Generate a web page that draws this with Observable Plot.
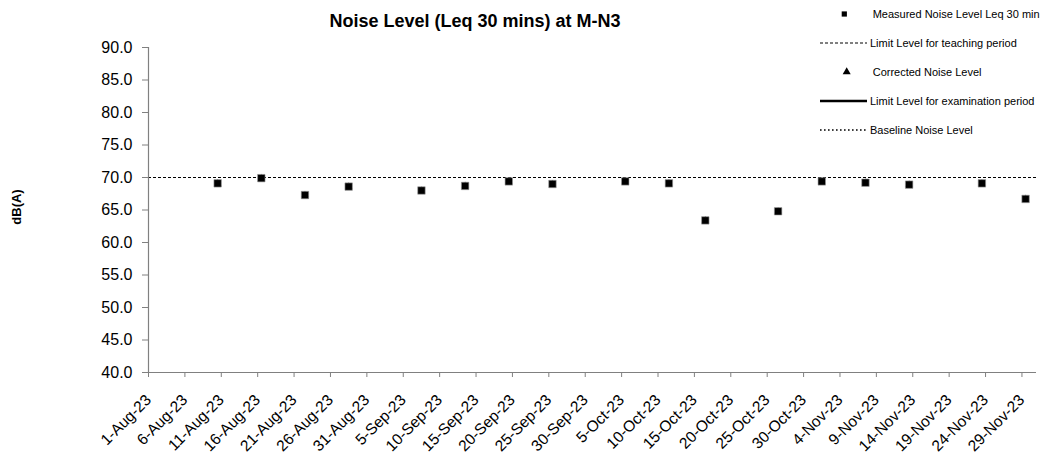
<!DOCTYPE html>
<html>
<head>
<meta charset="utf-8">
<script src="https://cdn.jsdelivr.net/npm/d3@7"></script>
<script src="https://cdn.jsdelivr.net/npm/@observablehq/plot@0.6"></script>
<style>
  html, body { margin: 0; padding: 0; background: #fff; }
  #chart svg { display: block; }
</style>
</head>
<body>
<div id="chart"></div>
<script>
const chartTitle = "Noise Level (Leq 30 mins) at M-N3";
const yLabel = "dB(A)";

// Measurement dates and values
const measDates = ["2023-08-10","2023-08-16","2023-08-22","2023-08-28","2023-09-07","2023-09-13","2023-09-19","2023-09-25","2023-10-05","2023-10-11","2023-10-16","2023-10-26","2023-11-01","2023-11-07","2023-11-13","2023-11-23","2023-11-29"];
const measuredLeq = [69.1,69.9,67.3,68.6,68.0,68.7,69.4,69.0,69.4,69.1,63.4,64.8,69.4,69.2,68.9,69.1,66.7];
const correctedLeq = [69.1,69.9,67.3,68.6,68.0,68.7,69.4,69.0,69.4,69.1,63.4,64.8,69.4,69.2,68.9,69.1,66.7];
const teachingLimit = 70;

// Axis ticks
const xTickDates = ["2023-08-01","2023-08-06","2023-08-11","2023-08-16","2023-08-21","2023-08-26","2023-08-31","2023-09-05","2023-09-10","2023-09-15","2023-09-20","2023-09-25","2023-09-30","2023-10-05","2023-10-10","2023-10-15","2023-10-20","2023-10-25","2023-10-30","2023-11-04","2023-11-09","2023-11-14","2023-11-19","2023-11-24","2023-11-29"];
const yTicks = [40,45,50,55,60,65,70,75,80,85,90];
const xDomain = ["2023-08-01","2023-12-01"];

// Legend entries
const legendLabels = ["Measured Noise Level Leq 30 min","Limit Level for teaching period","Corrected Noise Level","Limit Level for examination period","Baseline Noise Level"];

const parse = s => new Date(s + "T00:00:00Z");
const HALF_DAY = 12 * 3600 * 1000;
// Excel date axis "between tick marks": each day's point sits mid-band
const measured = measDates.map((d, i) => ({date: new Date(parse(d).getTime() + HALF_DAY), value: measuredLeq[i]}));
const corrected = measDates.map((d, i) => ({date: new Date(parse(d).getTime() + HALF_DAY), value: correctedLeq[i]}));

const axisGrey = "#808080";
const fmt = d3.utcFormat("%-d-%b-%y");

const plot = Plot.plot({
  width: 1042,
  height: 459,
  marginLeft: 148,
  marginRight: 6,
  marginTop: 47,
  marginBottom: 87,
  style: {fontFamily: "'Liberation Sans', Arial, sans-serif", background: "#fff", color: "#000", overflow: "visible"},
  x: {type: "utc", domain: xDomain.map(parse)},
  y: {domain: [40, 90]},
  marks: [
    Plot.ruleY([teachingLimit], {stroke: "#000", strokeWidth: 1, strokeDasharray: "3,2"}),
    Plot.ruleX([parse(xDomain[0])], {stroke: axisGrey, strokeWidth: 1.2}),
    Plot.ruleY([40], {stroke: axisGrey, strokeWidth: 1.2}),
    Plot.axisY({ticks: yTicks, tickFormat: d => d.toFixed(1), tickSize: 6, tickPadding: 10, fontSize: 16, stroke: axisGrey, label: null}),
    Plot.axisX({ticks: xTickDates.map(parse), tickFormat: fmt, tickRotate: -45, tickSize: 5, tickPadding: 20, fontSize: 15.5, stroke: axisGrey, label: null}),
    Plot.dot(corrected, {x: "date", y: "value", symbol: "triangle", r: 2.8, fill: "#555", stroke: "none"}),
    Plot.dot(measured, {x: "date", y: "value", symbol: "square", r: 4.2, fill: "#000", stroke: "#999", strokeWidth: 0.6})
  ]
});

document.getElementById("chart").appendChild(plot);

const svg = d3.select(plot);
const font = "'Liberation Sans', Arial, sans-serif";

svg.append("text")
  .attr("x", 475).attr("y", 27)
  .attr("text-anchor", "middle")
  .attr("font-family", font).attr("font-size", 18).attr("font-weight", "bold")
  .attr("fill", "#000")
  .text(chartTitle);

svg.append("text")
  .attr("transform", "translate(21,207) rotate(-90)")
  .attr("text-anchor", "middle")
  .attr("font-family", font).attr("font-size", 13).attr("font-weight", "bold")
  .attr("fill", "#000")
  .text(yLabel);

// Legend
const lg = svg.append("g").attr("font-family", font).attr("font-size", 11).attr("fill", "#000").attr("text-anchor", "start");
const rowY = [14, 43, 72, 101, 130];
const lineX1 = 820, lineX2 = 867;
// 1: square
lg.append("rect").attr("x", 844.3 - 2.6).attr("y", rowY[0] - 2.6).attr("width", 5.2).attr("height", 5.2).attr("fill", "#000");
// 2: dashed
lg.append("line").attr("x1", lineX1).attr("x2", lineX2).attr("y1", rowY[1]).attr("y2", rowY[1]).attr("stroke", "#000").attr("stroke-dasharray", "3,2");
// 3: triangle
lg.append("path").attr("d", d3.symbol(d3.symbolTriangle, 28)()).attr("transform", `translate(846.7,${rowY[2]})`).attr("fill", "#000");
// 4: solid thick
lg.append("line").attr("x1", lineX1).attr("x2", lineX2).attr("y1", rowY[3]).attr("y2", rowY[3]).attr("stroke", "#000").attr("stroke-width", 2.5);
// 5: dotted
lg.append("line").attr("x1", lineX1).attr("x2", lineX2).attr("y1", rowY[4]).attr("y2", rowY[4]).attr("stroke", "#000").attr("stroke-width", 1.6).attr("stroke-dasharray", "1.6,2.4");
const textX = [872.7, 870, 872.7, 870, 870];
legendLabels.forEach((t, i) => {
  lg.append("text").attr("x", textX[i]).attr("y", rowY[i]).attr("dy", "0.35em").attr("text-anchor", "start").text(t);
});
</script>
</body>
</html>
